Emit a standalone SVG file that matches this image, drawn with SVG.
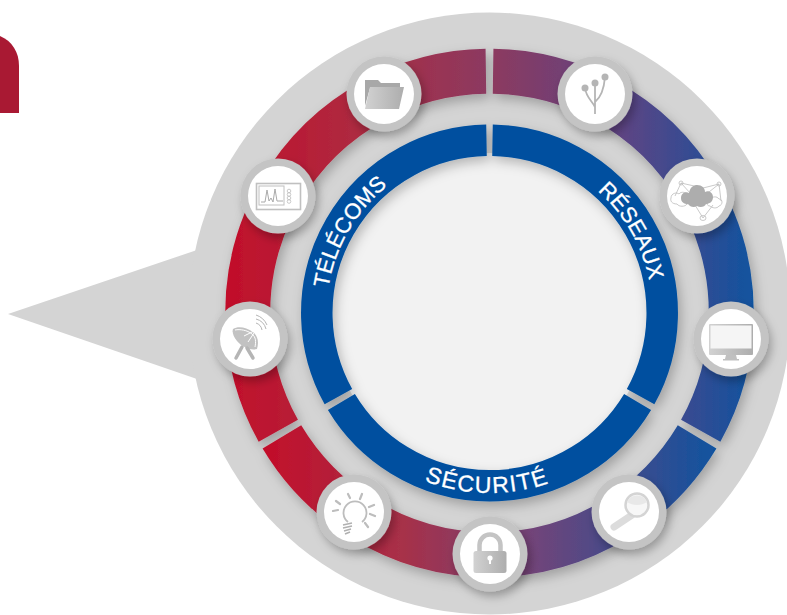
<svg xmlns="http://www.w3.org/2000/svg" width="787" height="615" viewBox="0 0 787 615">
<style>
.seg{fill:none;stroke-width:45}
.blue{fill:none;stroke:#02509f;stroke-width:31.5}
.lab{font-family:"Liberation Sans",Arial,sans-serif;font-size:22px;fill:#fff;stroke:#fff;stroke-width:.3;text-anchor:middle}
.ring{fill:#c4c4c4}
.face{fill:#fff}
.ic{fill:#b5b5b5}
.th{fill:none;stroke:#bdbdbd;stroke-width:.8}
</style>
<defs>
<filter id="sh" x="-20%" y="-20%" width="140%" height="140%"><feDropShadow dx="3" dy="5" stdDeviation="6" flood-color="#000" flood-opacity=".25"/></filter>
<filter id="shn" x="-40%" y="-40%" width="180%" height="180%"><feDropShadow dx="3" dy="5" stdDeviation="5" flood-color="#000" flood-opacity=".28"/></filter>
<linearGradient id="g1" gradientUnits="userSpaceOnUse" x1="225" y1="0" x2="486" y2="0"><stop offset="0" stop-color="#c20e2a"/><stop offset=".5" stop-color="#ae2a40"/><stop offset="1" stop-color="#8c3a60"/></linearGradient>
<linearGradient id="g2" gradientUnits="userSpaceOnUse" x1="493" y1="0" x2="754" y2="0"><stop offset="0" stop-color="#8c3a60"/><stop offset=".5" stop-color="#5d4484"/><stop offset="1" stop-color="#10539f"/></linearGradient>
<linearGradient id="g3" gradientUnits="userSpaceOnUse" x1="265" y1="0" x2="716" y2="0"><stop offset="0" stop-color="#c20e2a"/><stop offset=".3" stop-color="#a83048"/><stop offset=".6" stop-color="#70447a"/><stop offset="1" stop-color="#10539f"/></linearGradient>
<linearGradient id="icg" x1="0" y1="0" x2="1" y2="0"><stop offset="0" stop-color="#d2d2d2"/><stop offset="1" stop-color="#adadad"/></linearGradient>
<path id="pt" d="M336.3 368.7A163 163 0 0 1 461.2 152.5"/>
<path id="pr" d="M517.8 152.5A163 163 0 0 1 642.7 368.7"/>
<path id="pb" d="M373.8 450.9A180 180 0 0 0 605.2 450.9"/>
</defs>
<path id="corner" d="M0 36C12 41 19 52 19 66V113H0Z" fill="#a91933"/>
<g id="bubble"><path d="M8 314L197 250V379Z" fill="#d4d4d4"/><circle cx="489.5" cy="313.500" r="301" fill="#d4d4d4"/></g>
<g id="outer-ring" filter="url(#sh)">
<path class="seg" stroke="url(#g2)" d="M493.1 71.3A241.75 241.75 0 0 1 700.7 430.7"/>
<path class="seg" stroke="url(#g3)" d="M697.1 436.9A241.75 241.75 0 0 1 281.9 436.9"/>
<path class="seg" stroke="url(#g1)" d="M278.3 430.7A241.75 241.75 0 0 1 485.9 71.3"/>
</g>
<circle id="center" cx="489.5" cy="313" r="160" fill="#f2f2f2"/>
<g id="inner-ring" filter="url(#sh)">
<path class="blue" d="M492.5 140.3A172.75 172.75 0 0 1 640.6 396.7"/>
<path class="blue" d="M637.6 402A172.75 172.75 0 0 1 341.4 402"/>
<path class="blue" d="M338.4 396.7A172.75 172.75 0 0 1 486.5 140.3"/>
</g>
<g id="labels">
<text class="lab"><textPath href="#pt" startOffset="50%">TÉLÉCOMS</textPath></text>
<text class="lab"><textPath href="#pr" startOffset="50%">RÉSEAUX</textPath></text>
<text class="lab" style="font-size:23px;letter-spacing:1.500px"><textPath href="#pb" startOffset="49%">SÉCURITÉ</textPath></text>
</g>
<g id="node-folder" transform="translate(384 94)"><g filter="url(#shn)"><circle class="ring" r="37.5"/></g><circle class="face" r="30"/>
<path fill="#a8a8a8" d="M-19 12V-14H-6L-3 -11H16V-6H-14Z"/><path fill="url(#icg)" d="M-14 -7H20L15 15H-19Z"/></g>
<g id="node-analyzer" transform="translate(278 196)"><g filter="url(#shn)"><circle class="ring" r="37.5"/></g><circle class="face" r="30"/>
<rect x="-21.5" y="-12.5" width="44" height="26" fill="none" stroke="#c0c0c0" stroke-width="1.6"/><rect x="-19" y="-10" width="25" height="19" fill="none" stroke="#c0c0c0" stroke-width="1"/>
<path d="M-17 6H-13L-11 -6L-9 5L-7 2L-5 6L-3 -7L-1 5H5" fill="none" stroke="#aaa" stroke-width="1"/>
<g class="th"><circle cx="11" cy="-5" r="1.8"/><circle cx="11" cy="-1.5" r="1.8"/><circle cx="11" cy="2" r="1.8"/><circle cx="11" cy="5.5" r="1.8"/></g></g>
<g id="node-dish" transform="translate(250 339)"><g filter="url(#shn)"><circle class="ring" r="37.5"/></g><circle class="face" r="30"/>
<path fill="#c2c2c2" d="M-17 -10C-12 -13 -4 -12 3 -7C8 -3 9 3 7 10C1 12 -8 8 -13 2C-17 -3 -18 -7 -17 -10Z"/>
<path d="M-8 8L-14 19M-3 9L3 19" fill="none" stroke="#b5b5b5" stroke-width="3.5" stroke-linecap="round"/>
<path d="M-15 -9C-10 -10 -3 -9 2 -5C6 -2 6 3 5 8M-6 -3L6 -9M-2 3L6 -9" fill="none" stroke="#fff" stroke-width="1"/>
<path d="M6 -16A9 9 0 0 1 12 -9M6 -20A14 14 0 0 1 16 -10M6 -24A18 18 0 0 1 17 -14" fill="none" stroke="#b5b5b5" stroke-width="1"/></g>
<g id="node-bulb" transform="translate(354 512)"><g filter="url(#shn)"><circle class="ring" r="37.5"/></g><circle class="face" r="30"/>
<path d="M-6 10A11.5 11.5 0 1 1 8 10" fill="none" stroke="#bdbdbd" stroke-width="1.8"/>
<path d="M-11 13L-2 11M-11 16L-2 14M-10 19L-3 17M-9 22L-4 20" fill="none" stroke="#b0b0b0" stroke-width="1.6"/>
<path d="M-18 -11L-14 -8M-6 -18L-4 -14M8 -18L6 -13M20 -7L15 -5M21 4L16 2M14 15L11 11M-21 -1L-16 -2" fill="none" stroke="#bdbdbd" stroke-width="2.2" stroke-linecap="round"/></g>
<g id="node-lock" transform="translate(490 554)"><g filter="url(#shn)"><circle class="ring" r="37.5"/></g><circle class="face" r="30"/>
<path d="M-10.500 -3V-9A10.500 10.500 0 0 1 10.500 -9V-3" fill="none" stroke="#c4c4c4" stroke-width="4.500"/>
<rect x="-16.500" y="-3" width="33" height="22" rx="2.500" fill="url(#icg)"/><circle cy="4" r="2.600" fill="#fff"/><rect x="-1" y="4" width="2" height="6" fill="#fff"/></g>
<g id="node-magnifier" transform="translate(629 512)"><g filter="url(#shn)"><circle class="ring" r="37.5"/></g><circle class="face" r="30"/>
<path d="M3 3L-15 15" stroke="#dcdcdc" stroke-width="7" stroke-linecap="round" fill="none"/>
<circle cx="8" cy="-7" r="11.500" fill="#f7f7f7" stroke="#d4d4d4" stroke-width="2.500"/><path d="M-2 -10A11 11 0 0 1 18 -10C12 -6 4 -6 -2 -10Z" fill="#e8e8e8"/></g>
<g id="node-monitor" transform="translate(731 339)"><g filter="url(#shn)"><circle class="ring" r="37.5"/></g><circle class="face" r="30"/>
<rect x="-22" y="-15" width="44" height="31" rx="1" fill="url(#icg)"/><rect x="-20.500" y="-13.500" width="41" height="23" fill="#f5f5f5"/>
<path d="M-5 16H5L6 20H8V21.500H-8V20H-6Z" fill="#c0c0c0"/></g>
<g id="node-cloud" transform="translate(697 196)"><g filter="url(#shn)"><circle class="ring" r="37.5"/></g><circle class="face" r="30"/>
<path class="th" d="M-16 -13L-6 -2M-16 -13L6 -8M22 -12L12 -4M22 -12L24 5M6 22L-2 9M6 22L16 9M-16 -13L-22 0M6 -8L22 -12"/>
<path class="th" d="M-26 2C-26 -3 -20 -4 -18 -2C-16 -5 -10 -4 -9 0C-5 0 -5 7 -10 8C-12 11 -18 11 -20 8C-25 8 -27 5 -26 2Z"/>
<path class="th" d="M13 4C15 0 20 0 22 3C26 3 26 9 22 10C20 13 15 12 13 10C9 10 9 5 13 4Z"/>
<circle class="th" cx="-16" cy="-13" r="2"/><circle class="th" cx="22" cy="-12" r="2"/><ellipse class="th" cx="6" cy="22" rx="3" ry="2.500"/>
<path fill="#adadad" d="M-16 2C-16 -3 -11 -5 -8 -3C-7 -9 -3 -11 0 -11C5 -11 8 -8 8 -4C12 -6 16 -3 16 1C16 6 12 8 9 8C8 11 3 12 0 10C-3 12 -7 11 -9 8C-13 8 -16 6 -16 2Z"/></g>
<g id="node-tree" transform="translate(595 94)"><g filter="url(#shn)"><circle class="ring" r="37.5"/></g><circle class="face" r="30"/>
<path d="M0 20V-11M0 13C-3 7 -9 3 -10 -6M0 8C5 4 9 -5 10 -17" fill="none" stroke="#b5b5b5" stroke-width="1.800"/>
<circle class="ic" cx="-10" cy="-6" r="3.500"/><circle class="ic" cx="0" cy="-11" r="3.500"/><circle class="ic" cx="10" cy="-17" r="3.500"/></g>
</svg>
